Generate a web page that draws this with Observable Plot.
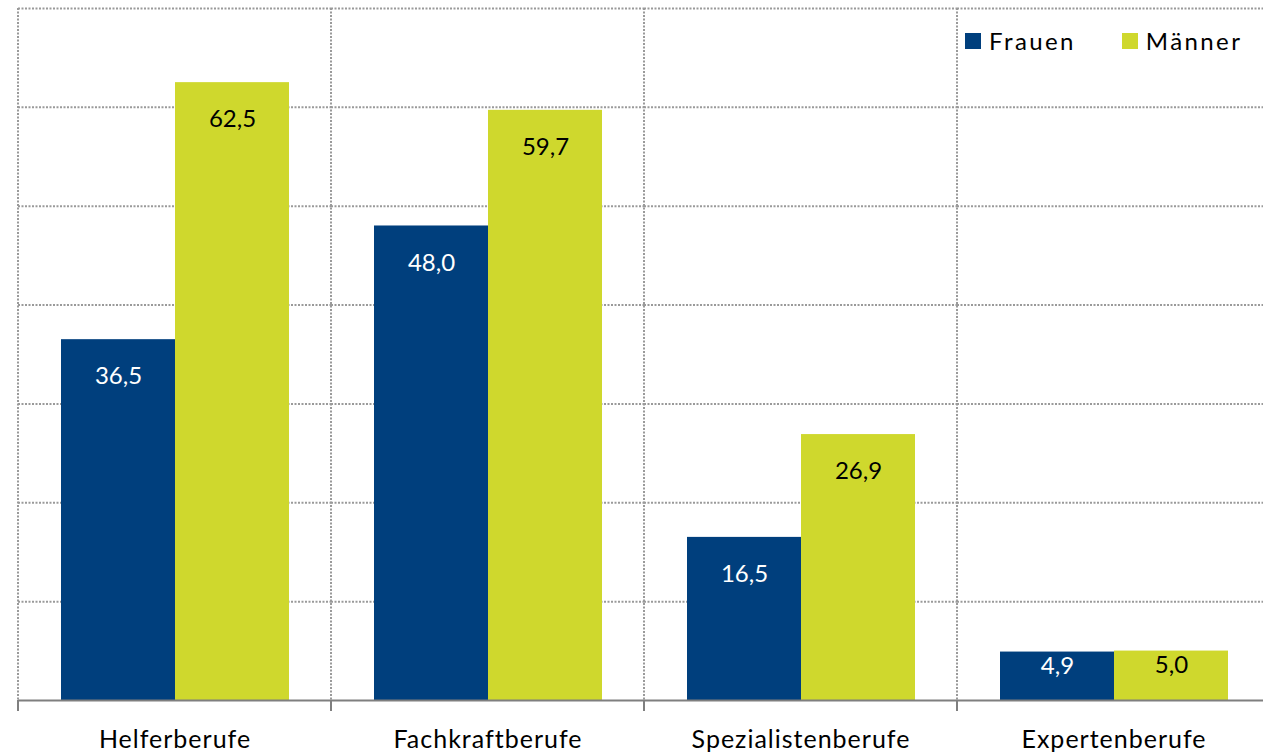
<!DOCTYPE html>
<html>
<head>
<meta charset="utf-8">
<script src="https://cdn.jsdelivr.net/npm/d3@7"></script>
<script src="https://cdn.jsdelivr.net/npm/@observablehq/plot@0.6"></script>
<style>
  html, body { margin: 0; padding: 0; background: #fff; overflow: hidden; }
  #wrap { position: relative; width: 1263px; height: 756px; overflow: hidden; }
  #wrap svg { max-width: none !important; }
  .legend { position: absolute; top: 26px; left: 965px; font-family: Lato, sans-serif; font-size: 24px; color: #000; display: flex; align-items: center; letter-spacing: 2.4px; }
  .legend .item { display: flex; align-items: center; }
  .legend .sw { width: 16px; height: 16px; display: inline-block; margin-right: 8px; }
  .chart g[aria-label="fx-axis tick label"] text { letter-spacing: 1px; }
</style>
</head>
<body>
<div id="wrap"></div>
<script>
const categories = ["Helferberufe", "Fachkraftberufe", "Spezialistenberufe", "Expertenberufe"];
const series = ["Frauen", "Männer"];
const frauen = [36.5, 48.0, 16.5, 4.9];
const maenner = [62.5, 59.7, 26.9, 5.0];
const seriesColors = ["#003f7d", "#cfd82d"];
const labelColors = ["#ffffff", "#000000"];
const gridTicks = [10, 20, 30, 40, 50, 60, 70];

const data = categories.flatMap((c, i) => [
  {cat: c, sex: series[0], value: frauen[i]},
  {cat: c, sex: series[1], value: maenner[i]}
]);

const fmt = v => v.toFixed(1).replace(".", ",");

function labels(sexIdx) {
  const d = data.filter(r => r.sex === series[sexIdx]);
  return [
    Plot.text(d.filter(r => r.value > 10), {fx: "cat", x: "sex", y: "value", text: r => fmt(r.value), dy: 37, fill: labelColors[sexIdx], fontSize: 24}),
    Plot.text(d.filter(r => r.value <= 10), {fx: "cat", x: "sex", y: "value", text: r => fmt(r.value), dy: 14, fill: labelColors[sexIdx], fontSize: 24})
  ];
}

const gridStyle = {stroke: "#9a9a9a", strokeOpacity: 1, strokeWidth: 2, strokeDasharray: "2,1.5"};

const chart = Plot.plot({
  className: "chart",
  width: 1280,
  height: 756,
  marginTop: 8,
  marginBottom: 56,
  marginLeft: 16,
  marginRight: 9,
  style: {fontFamily: "Lato, sans-serif", background: "#fff", color: "#000", maxWidth: "none"},
  fx: {domain: categories, padding: 0, label: null},
  x: {domain: series, paddingInner: 0, paddingOuter: 0.367, axis: null},
  y: {domain: [0, 70], axis: null},
  color: {domain: series, range: seriesColors},
  marks: [
    Plot.gridY(gridTicks, gridStyle),
    Plot.gridFx({...gridStyle, dx: -157}),
    Plot.barY(data, {fx: "cat", x: "sex", y: "value", fill: "sex"}),
    Plot.ruleY([0], {stroke: "#7f7f7f", strokeWidth: 2}),
    ...labels(0),
    ...labels(1),
    Plot.axisFx({anchor: "bottom", tickSize: 0, tickPadding: 30, fontSize: 25, label: null, fill: "#000"}),
    Plot.axisFx({anchor: "bottom", tickSize: 11, tickFormat: () => "", label: null, dx: -157, stroke: "#7f7f7f", strokeWidth: 2})
  ]
});

const wrap = document.getElementById("wrap");
wrap.appendChild(chart);

const legend = document.createElement("div");
legend.className = "legend";
legend.innerHTML = series.map((s, i) =>
  `<span class="item" style="margin-right:${i === 0 ? 46 : 0}px"><span class="sw" style="background:${seriesColors[i]}"></span>${s}</span>`
).join("");
wrap.appendChild(legend);
</script>
</body>
</html>
